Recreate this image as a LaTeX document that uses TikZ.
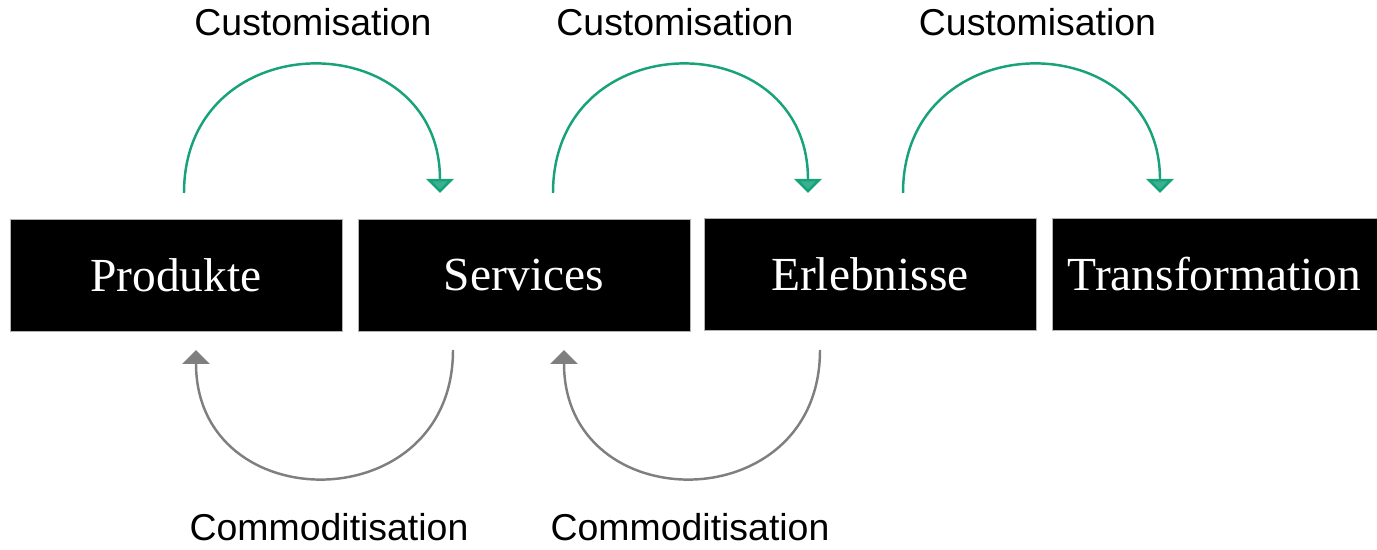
\documentclass[tikz,border=0pt]{standalone}
\usepackage{fontspec}
\setmainfont{Liberation Serif}
\newfontfamily\labelfont{Liberation Sans}
\definecolor{CustGreen}{HTML}{17A27A}
\definecolor{CommGray}{HTML}{7F7F7F}
\usetikzlibrary{arrows.meta}

\begin{document}
\begin{tikzpicture}[
  stage/.style={
    rectangle, fill=black, draw=gray!60,
    line width=0.5pt,
    minimum width=6.64cm, minimum height=2.24cm,
    font=\fontsize{27}{30}\selectfont,
    text=white, align=center
  },
  flowlabel/.style={
    anchor=base,
    font=\labelfont\fontsize{21.3}{25}\selectfont
  },
  custarrow/.style={
    draw=CustGreen, line width=1.4pt,
    -{Triangle[width=0.54cm, length=0.28cm, fill=CustGreen!85]},
    out=90, in=90, distance=3.41cm
  },
  commarrow/.style={
    draw=CommGray, line width=1.4pt,
    -{Triangle[width=0.54cm, length=0.28cm, fill=CommGray]},
    out=-90, in=-90, distance=3.41cm
  }
]
  \useasboundingbox (0,0) rectangle (27.54,11);

  % Stages (left to right)
  \node[stage] (prod) at (3.52,5.49) {Produkte};
  \node[stage] (serv) at (10.48,5.49) {Services};
  \node[stage] (erleb) at (17.40,5.52) {Erlebnisse};
  \node[stage, minimum width=6.5cm] (trans)
    at (24.29,5.52) {Transformation};

  % Arc end points
  \coordinate (cust1a) at (3.68,7.14);
  \coordinate (cust1b) at (8.80,7.14);
  \coordinate (cust2a) at (11.06,7.14);
  \coordinate (cust2b) at (16.16,7.14);
  \coordinate (cust3a) at (18.06,7.14);
  \coordinate (cust3b) at (23.20,7.14);
  \coordinate (comm1a) at (9.06,4.0);
  \coordinate (comm1b) at (3.92,4.0);
  \coordinate (comm2a) at (16.40,4.0);
  \coordinate (comm2b) at (11.28,4.0);

  % Customisation arcs on top
  \draw[custarrow] (cust1a) to (cust1b);
  \draw[custarrow] (cust2a) to (cust2b);
  \draw[custarrow] (cust3a) to (cust3b);

  % Commoditisation arcs below
  \draw[commarrow] (comm1a) to (comm1b);
  \draw[commarrow] (comm2a) to (comm2b);

  % Labels
  \node[flowlabel] (custlab1) at (6.26,10.28) {Customisation};
  \node[flowlabel] (custlab2) at (13.50,10.28) {Customisation};
  \node[flowlabel] (custlab3) at (20.75,10.28) {Customisation};
  \node[flowlabel] (commlab1) at (6.58,0.18) {Commoditisation};
  \node[flowlabel] (commlab2) at (13.80,0.18) {Commoditisation};
\end{tikzpicture}
\end{document}
